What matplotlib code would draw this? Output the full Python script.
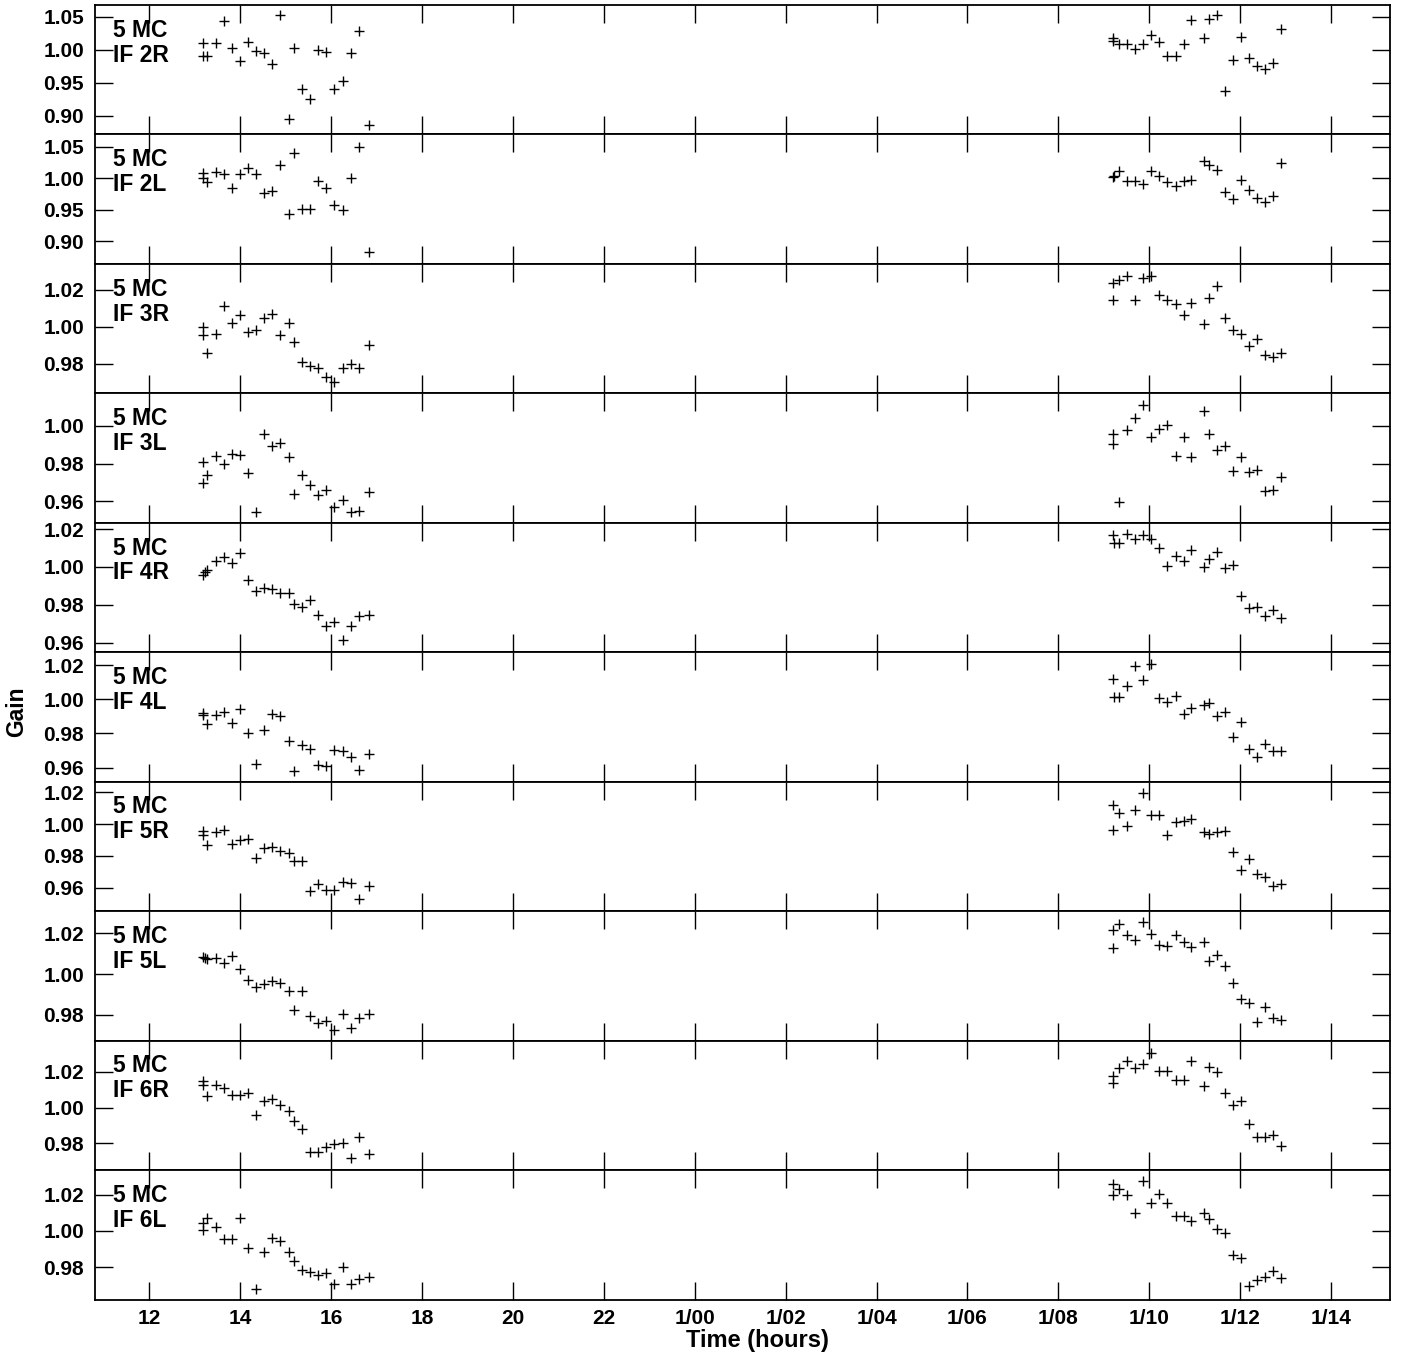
"""Per-IF antenna gain vs time, 10 stacked panels (5 MC, IF 2R .. IF 6L)."""
import matplotlib

matplotlib.use("Agg")
import matplotlib.pyplot as plt
from matplotlib.ticker import MultipleLocator, FormatStrFormatter, FixedLocator

# scan times (hours since day 0 start), left and right observing blocks
scan_left = [13.18, 13.27, 13.46, 13.63, 13.81, 14.00, 14.17, 14.34, 14.52, 14.69, 14.88,
             15.08, 15.18, 15.36, 15.53, 15.71, 15.89, 16.07, 16.26, 16.44, 16.61, 16.82]
scan_right = [33.21, 33.34, 33.52, 33.69, 33.87, 34.04, 34.22, 34.39, 34.58, 34.76, 34.93,
              35.21, 35.31, 35.49, 35.66, 35.85, 36.02, 36.20, 36.38, 36.55, 36.73, 36.91]

panel_labels = ["IF 2R", "IF 2L", "IF 3R", "IF 3L", "IF 4R",
                "IF 4L", "IF 5R", "IF 5L", "IF 6R", "IF 6L"]

gain_2R_left = [0.990, 0.990, 1.010, 1.043, 1.002, 0.983, 1.012, 0.998, 0.995, 0.978, 1.052,
                0.895, 1.003, 0.940, 0.925, 0.999, 0.997, 0.940, 0.953, 0.995, 1.029, 0.887]
gain_2R_right = [1.017, 1.008, 1.008, 1.001, 1.008, 1.023, 1.011, 0.990, 0.990, 1.008, 1.045,
                 1.017, 1.047, 1.052, 0.937, 0.984, 1.019, 0.987, 0.975, 0.971, 0.980, 1.032]
extra_2R = [(13.18, 1.010), (33.21, 1.013)]

gain_2L_left = [1.000, 0.994, 1.010, 1.007, 0.985, 1.007, 1.017, 1.007, 0.977, 0.980, 1.021,
                0.943, 1.040, 0.951, 0.951, 0.996, 0.985, 0.957, 0.949, 1.000, 1.050, 0.883]
gain_2L_right = [1.002, 1.012, 0.996, 0.996, 0.991, 1.011, 1.003, 0.994, 0.988, 0.995, 0.997,
                 1.027, 1.022, 1.014, 0.978, 0.967, 0.997, 0.982, 0.969, 0.962, 0.972, 1.024]
extra_2L = [(13.18, 1.008), (33.23, 1.004)]

gain_3R_left = [1.000, 0.986, 0.996, 1.011, 1.002, 1.0065, 0.997, 0.998, 1.0045, 1.007, 0.9955,
                1.002, 0.992, 0.981, 0.979, 0.978, 0.973, 0.970, 0.978, 0.980, 0.978, 0.990]
gain_3R_right = [1.0236, 1.0254, 1.0272, 1.0146, 1.0263, 1.0276, 1.0173, 1.0146, 1.0121, 1.0063,
                 1.0126, 1.0016, 1.0155, 1.0222, 1.0045, 0.998, 0.9962, 0.9895, 0.9932, 0.985,
                 0.9836, 0.9858]
extra_3R = [(13.18, 0.9955), (33.21, 1.0146)]

gain_3L_left = [0.981, 0.9738, 0.984, 0.980, 0.985, 0.9844, 0.9749, 0.9543, 0.9956, 0.9894,
                0.9912, 0.9835, 0.9637, 0.9742, 0.9685, 0.9632, 0.966, 0.9572, 0.961, 0.9543,
                0.9549, 0.9651]
gain_3L_right = [0.9956, 0.9596, 0.9979, 1.0041, 1.011, 0.9943, 0.9986, 1.0007, 0.984, 0.9943,
                 0.9835, 1.0081, 0.9959, 0.9873, 0.9894, 0.9761, 0.9835, 0.9756, 0.9766, 0.9655,
                 0.966, 0.9729]
extra_3L = [(13.18, 0.9696), (33.21, 0.9906)]

gain_4R_left = [0.9960, 0.9986, 1.0032, 1.0053, 1.0019, 1.0074, 0.993, 0.9874, 0.989, 0.9884,
                0.9861, 0.986, 0.9804, 0.979, 0.9825, 0.9746, 0.9688, 0.9712, 0.9614, 0.9688,
                0.9739, 0.9747]
gain_4R_right = [1.0168, 1.0125, 1.0175, 1.0149, 1.0168, 1.0149, 1.0102, 1.0005, 1.006, 1.0032,
                 1.0089, 1.0002, 1.0044, 1.0081, 0.9995, 1.0009, 0.9846, 0.9781, 0.979, 0.9742,
                 0.9772, 0.973]
extra_4R = [(13.22, 0.9975), (33.22, 1.0125)]

gain_4L_left = [0.9908, 0.9856, 0.991, 0.9927, 0.9864, 0.9941, 0.9805, 0.9624, 0.9821, 0.9911,
                0.9902, 0.9758, 0.9581, 0.9731, 0.9707, 0.9616, 0.9607, 0.9705, 0.9695, 0.9664,
                0.9585, 0.9679]
gain_4L_right = [1.0116, 1.0016, 1.0075, 1.0195, 1.0112, 1.0207, 1.001, 0.9986, 1.0018, 0.9911,
                 0.9947, 0.9967, 0.9976, 0.9904, 0.9925, 0.9778, 0.9866, 0.9707, 0.9664, 0.9738,
                 0.9695, 0.9695]
extra_4L = [(13.18, 0.9919), (33.22, 1.0016)]

gain_5R_left = [0.996, 0.9868, 0.9952, 0.9964, 0.9875, 0.990, 0.9908, 0.9789, 0.9847, 0.9854,
                0.9829, 0.9818, 0.9768, 0.9768, 0.958, 0.9622, 0.9588, 0.9584, 0.9634, 0.963,
                0.9526, 0.9609]
gain_5R_right = [1.0119, 1.0069, 0.999, 1.009, 1.0199, 1.0056, 1.0056, 0.9931, 1.0015, 1.0019,
                 1.0031, 0.9952, 0.9939, 0.995, 0.9958, 0.9827, 0.971, 0.9781, 0.9684, 0.967,
                 0.9609, 0.9622]
extra_5R = [(13.18, 0.9931), (33.21, 0.9964)]

gain_5L_left = [1.0085, 1.0072, 1.0077, 1.0056, 1.0089, 1.0026, 0.997, 0.9938, 0.9951, 0.9967,
                0.9954, 0.9915, 0.9826, 0.9918, 0.9797, 0.9761, 0.977, 0.9725, 0.9806, 0.9738,
                0.9787, 0.9806]
gain_5L_right = [1.0216, 1.0246, 1.0189, 1.0167, 1.0253, 1.0197, 1.0141, 1.0138, 1.0192, 1.0156,
                 1.013, 1.0154, 1.0064, 1.0093, 1.0041, 0.9954, 0.9879, 0.9859, 0.9766, 0.9838,
                 0.9785, 0.9777]
extra_5L = [(13.22, 1.008), (33.21, 1.0126)]

gain_6R_left = [1.0151, 1.0065, 1.0125, 1.011, 1.0069, 1.0073, 1.008, 0.9961, 1.0039, 1.005,
                1.0017, 0.998, 0.9924, 0.9883, 0.9749, 0.9753, 0.9781, 0.9794, 0.9801, 0.9715,
                0.9838, 0.9741]
gain_6R_right = [1.0177, 1.0222, 1.0259, 1.0225, 1.0246, 1.0307, 1.0208, 1.0205, 1.0153, 1.0153,
                 1.0262, 1.0121, 1.0229, 1.0199, 1.008, 1.0017, 1.0037, 0.9909, 0.9838, 0.9838,
                 0.9849, 0.9786]
extra_6R = [(13.18, 1.0128), (33.21, 1.014)]

gain_6L_left = [1.0007, 1.007, 1.002, 0.9956, 0.9956, 1.007, 0.9904, 0.9682, 0.9885, 0.9963,
                0.9944, 0.9885, 0.9837, 0.9785, 0.9774, 0.9756, 0.9771, 0.971, 0.9804, 0.9706,
                0.9734, 0.9745]
gain_6L_right = [1.0259, 1.0229, 1.02, 1.01, 1.0274, 1.0152, 1.0204, 1.0155, 1.0085, 1.0085,
                 1.0057, 1.01, 1.0067, 1.0011, 0.9989, 0.987, 0.9852, 0.9697, 0.973, 0.9748,
                 0.9782, 0.9741]
extra_6L = [(13.18, 1.0044), (33.21, 1.02)]

y_limits = [(0.872, 1.0676), (0.864, 1.0698), (0.9641, 1.0339), (0.9487, 1.0173),
            (0.955, 1.0233), (0.9518, 1.0275), (0.9452, 1.0268), (0.9675, 1.0307),
            (0.965, 1.0376), (0.9623, 1.0335)]
y_steps = [0.05, 0.05, 0.02, 0.02, 0.02, 0.02, 0.02, 0.02, 0.02, 0.02]

x_ticks = list(range(12, 39, 2))
x_ticklabels = [str(h) if h < 24 else f"1/{h - 24:02d}" for h in x_ticks]

panels = [
    (gain_2R_left, gain_2R_right, extra_2R),
    (gain_2L_left, gain_2L_right, extra_2L),
    (gain_3R_left, gain_3R_right, extra_3R),
    (gain_3L_left, gain_3L_right, extra_3L),
    (gain_4R_left, gain_4R_right, extra_4R),
    (gain_4L_left, gain_4L_right, extra_4L),
    (gain_5R_left, gain_5R_right, extra_5R),
    (gain_5L_left, gain_5L_right, extra_5L),
    (gain_6R_left, gain_6R_right, extra_6R),
    (gain_6L_left, gain_6L_right, extra_6L),
]

plt.rcParams["font.family"] = ["Liberation Sans", "DejaVu Sans"]
plt.rcParams["font.weight"] = "bold"

W, H = 1401, 1357
fig = plt.figure(figsize=(W / 100, H / 100), dpi=100)

left_px, right_px = 94.5, 1390
top_px, panel_px = 5, 129.45
mark = dict(ls="none", marker="+", ms=6.5, mew=1.0, color="black")

for i, (gl, gr, extra) in enumerate(panels):
    y0 = top_px + (i + 1) * panel_px
    ax = fig.add_axes([left_px / W, 1 - y0 / H, (right_px - left_px) / W, panel_px / H])
    ax.plot(scan_left, gl, **mark)
    ax.plot(scan_right, gr, **mark)
    ax.plot([p[0] for p in extra], [p[1] for p in extra], **mark)

    ax.set_xlim(10.79, 39.30)
    ax.set_ylim(*y_limits[i])
    ax.xaxis.set_major_locator(FixedLocator(x_ticks))
    ax.yaxis.set_major_locator(MultipleLocator(y_steps[i]))
    ax.yaxis.set_major_formatter(FormatStrFormatter("%.2f"))
    ax.tick_params(direction="in", length=13, width=1.0, top=True, right=True,
                   labelsize=15)
    ax.tick_params(axis="y", pad=7.5)
    if i == len(panels) - 1:
        ax.set_xticklabels(x_ticklabels)
        ax.tick_params(axis="x", pad=7)
    else:
        ax.tick_params(axis="x", labelbottom=False)
    for s in ax.spines.values():
        s.set_linewidth(1.3)

    ax.text(0.014, 0.755, "5 MC", transform=ax.transAxes, fontsize=16.5,
            fontweight="bold", va="baseline", ha="left")
    ax.text(0.014, 0.562, panel_labels[i], transform=ax.transAxes, fontsize=16.5,
            fontweight="bold", va="baseline", ha="left")

fig.text(757 / W, 1 - 1341 / H, "Time (hours)", ha="center", va="center",
         fontsize=17, fontweight="bold")
fig.text(17 / W, 1 - 712 / H, "Gain", ha="center", va="center", rotation=90,
         fontsize=16.5, fontweight="bold")

fig.savefig("out.png", dpi=100)
